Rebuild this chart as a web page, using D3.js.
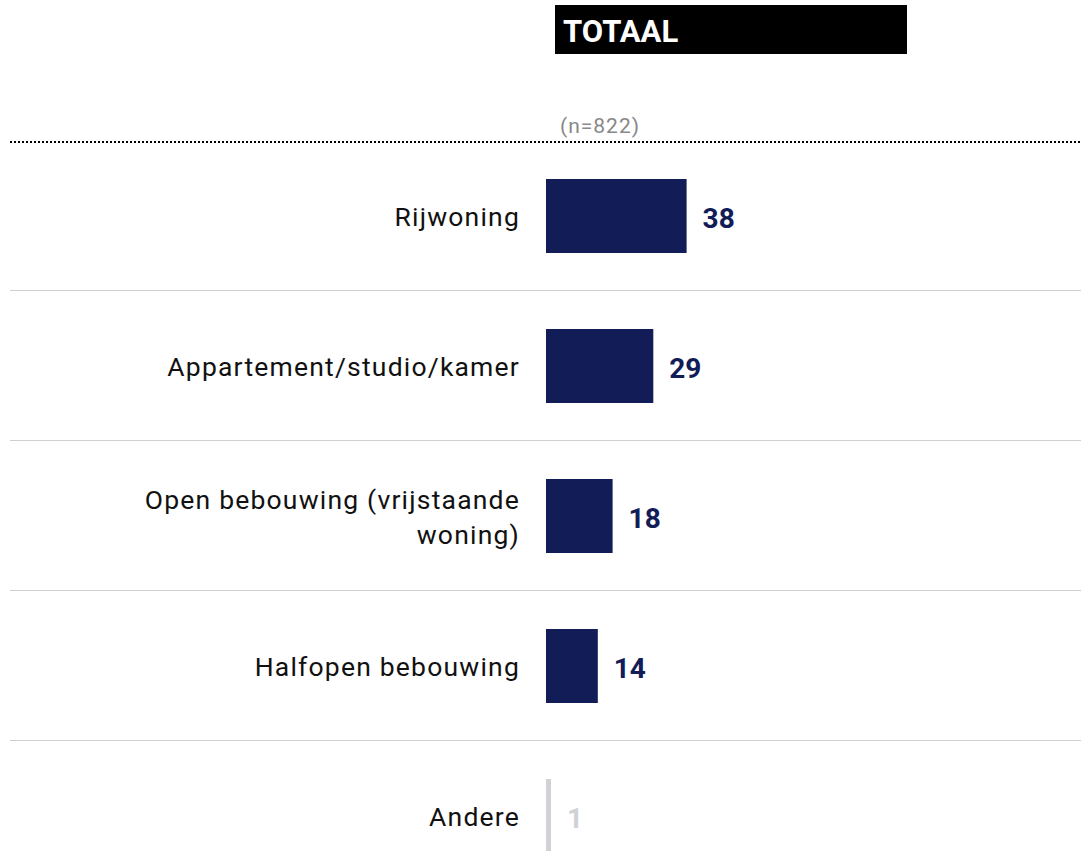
<!DOCTYPE html>
<html><head><meta charset="utf-8">
<script src="https://cdn.jsdelivr.net/npm/d3@7"></script>
<style>body{margin:0;background:#fff;} svg{display:block;font-family:Roboto,"Noto Sans",sans-serif;}</style>
</head><body>
<svg id="c" width="1081" height="851"></svg>
<script>
const categories = [["Rijwoning"],["Appartement/studio/kamer"],["Open bebouwing (vrijstaande","woning)"],["Halfopen bebouwing"],["Andere"]];
const values = [38, 29, 18, 14, 1];
const highlight = [true, true, true, true, false];
const title = "TOTAAL";
const nLabel = "(n=822)";

const svg = d3.select("#c");
const x = d3.scaleLinear().domain([0, 100]).range([546, 546 + 370]);
const y = d3.scaleBand().domain(d3.range(values.length)).range([142, 142 + 150*5]).paddingInner(0).paddingOuter(0);
const barH = 74;

svg.append("rect").attr("x",555).attr("y",5).attr("width",352).attr("height",49).attr("fill","#000");
svg.append("text").attr("x",563).attr("y",42).attr("fill","#fff").attr("font-size",31).attr("font-weight",700).text(title);
svg.append("text").attr("x",560).attr("y",133).attr("fill","#888").attr("font-size",21).attr("letter-spacing",1).text(nLabel);

svg.append("line").attr("x1",10).attr("x2",1081).attr("y1",142).attr("y2",142)
  .attr("stroke","#000").attr("stroke-width",2).attr("stroke-dasharray","2,2");

// separators
d3.range(1, values.length).forEach(i => {
  const yy = y(i) - 1.5;
  svg.append("line").attr("x1",10).attr("x2",1081).attr("y1",yy).attr("y2",yy).attr("stroke","#cfcfcf").attr("stroke-width",1);
});

const g = svg.append("g");
values.forEach((v, i) => {
  const cy = y(i) + y.bandwidth()/2 - 1;
  const w = Math.max(x(v) - x(0), 5);
  const col = highlight[i] ? "#121c56" : "#d0d2d6";
  g.append("rect").attr("x",x(0)).attr("y",cy - barH/2).attr("width",w).attr("height",barH).attr("fill",col);
  g.append("text").attr("x",x(0)+w+16).attr("y",cy+12).attr("font-size",28).attr("font-weight",700)
    .attr("fill", highlight[i] ? "#121c56" : "#cfd1d6").text(v);
  const lines = categories[i];
  const lh = 35;
  const t = g.append("text").attr("text-anchor","end").attr("font-size",26.5).attr("letter-spacing",1.2).attr("fill","#111");
  lines.forEach((l, k) => {
    t.append("tspan").attr("x",520).attr("y", cy + 10 + (k - (lines.length-1)/2)*lh).text(l);
  });
});
</script>
</body></html>
